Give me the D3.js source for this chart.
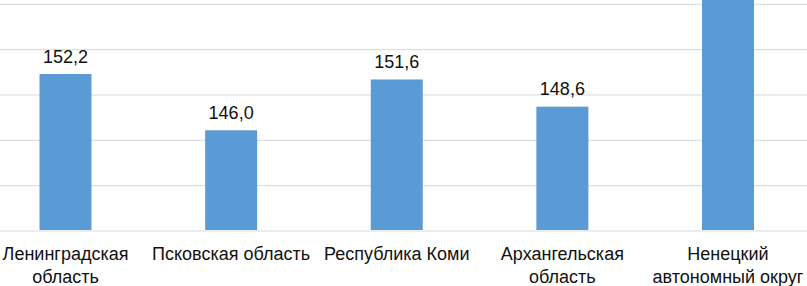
<!DOCTYPE html>
<html>
<head>
<meta charset="utf-8">
<script src="https://cdn.jsdelivr.net/npm/d3@7"></script>
<style>
  html, body { margin: 0; padding: 0; background: #fff; }
  svg { display: block; font-family: "Liberation Sans", Arial, sans-serif; }
</style>
</head>
<body>
<div id="wrapper"></div>
<script>
var categories = ["Ленинградская область", "Псковская область", "Республика Коми",
                  "Архангельская область", "Ненецкий автономный округ"];
var values = [152.2, 146.0, 151.6, 148.6, 176.0];
var tickValues = [135, 140, 145, 150, 155, 160];

var W = 807, H = 286;

var svg = d3.select('#wrapper')
            .append('svg')
            .attr('width', W)
            .attr('height', H);

// plot is cropped on the left and top, so the band range runs past the edges
var x = d3.scaleBand()
          .domain(categories)
          .range([-17.3, 810.8])
          .paddingInner(0.686)
          .paddingOuter(0.343);

var y = d3.scaleLinear()
          .domain([135, 160])
          .range([230, 3.3]);

// gridlines
var grid = svg.append("g")
              .call(d3.axisLeft(y).tickValues(tickValues).tickSize(-W).tickFormat(""));
grid.select(".domain").remove();
grid.selectAll(".tick line")
    .attr("stroke", "#d9d9d9")
    .attr("stroke-width", 1)
    .attr("transform", "translate(0,0.5)");

// bars
svg.selectAll("rect.bar")
   .data(values)
   .enter()
   .append("rect")
   .attr("class", "bar")
   .attr("x", function(d, i) { return x(categories[i]); })
   .attr("y", function(d) { return y(d); })
   .attr("width", x.bandwidth())
   .attr("height", function(d) { return y(135) - y(d); })
   .attr("fill", "#5b9bd5");

// value labels (the one above the cropped top is not in view, so skip it)
var shown = values.map(function(d, i) { return {v: d, c: categories[i]}; })
                  .filter(function(d) { return y(d.v) - 11.5 > 15; });
svg.selectAll("text.val")
   .data(shown)
   .enter()
   .append("text")
   .attr("class", "val")
   .attr("x", function(d) { return x(d.c) + x.bandwidth() / 2; })
   .attr("y", function(d) { return y(d.v) - 11.5; })
   .attr("text-anchor", "middle")
   .attr("font-size", 18)
   .attr("fill", "#111")
   .text(function(d) { return d.v.toFixed(1).replace(".", ","); });

// category labels, wrapped to the band step
var maxW = x.step() + 4;
svg.selectAll("text.cat")
   .data(categories)
   .enter()
   .append("text")
   .attr("class", "cat")
   .attr("text-anchor", "middle")
   .attr("font-size", 18)
   .attr("fill", "#111")
   .each(function(d) {
       var t = d3.select(this);
       var cx = x(d) + x.bandwidth() / 2;
       var words = d.split(" ");
       var lines = [], line = [];
       var probe = t.append("tspan");
       words.forEach(function(w) {
           line.push(w);
           probe.text(line.join(" "));
           if (probe.node().getComputedTextLength() > maxW && line.length > 1) {
               line.pop();
               lines.push(line.join(" "));
               line = [w];
           }
       });
       lines.push(line.join(" "));
       probe.remove();
       lines.forEach(function(l, k) {
           t.append("tspan")
            .attr("x", cx)
            .attr("y", 260 + k * 22.5)
            .text(l);
       });
   });
</script>
</body>
</html>
